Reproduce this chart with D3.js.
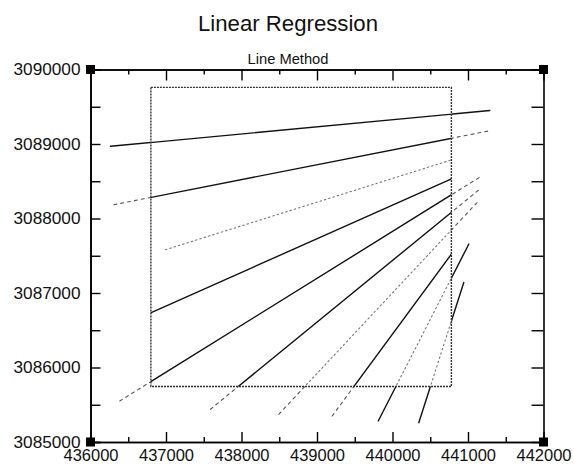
<!DOCTYPE html>
<html>
<head>
<meta charset="utf-8">
<script src="https://cdn.jsdelivr.net/npm/d3@7"></script>
<style>
  body { margin: 0; background: #fff; }
  text { font-family: "Liberation Sans", "DejaVu Sans", sans-serif; fill: #111; }
</style>
</head>
<body>
<svg id="chart" width="574" height="465"></svg>
<script>
// axis ticks (easting / northing)
var xMajor = [436000, 437000, 438000, 439000, 440000, 441000, 442000];
var xMinor = [436500, 437500, 438500, 439500, 440500, 441500];
var yMajor = [3085000, 3086000, 3087000, 3088000, 3089000, 3090000];
var yMinor = [3085500, 3086500, 3087500, 3088500, 3089500];

// the data window (inner box)
var boxX = [436800, 440780];
var boxY = [3085745, 3089760];

// regression lines, end points in map units
var lineNames = ["A", "B", "C", "D", "E", "F", "G", "H", "I", "J"];
var lineX1 = [436265, 436309, 436993, 436804, 436388, 437589, 438494, 439201, 439811, 440348];
var lineY1 = [3088969, 3088185, 3087581, 3086738, 3085551, 3085440, 3085372, 3085349, 3085282, 3085259];
var lineX2 = [441289, 441298, 440781, 440781, 441188, 441175, 441143, 440781, 441011, 440944];
var lineY2 = [3089449, 3089180, 3088786, 3088531, 3088575, 3088410, 3088239, 3087523, 3087657, 3087141];

// how each line is drawn inside / outside the box
var look = {
  A: ["solid", "solid"], B: ["solid", "dashed"], C: ["dotted", "dotted"],
  D: ["solid", "dashed"], E: ["solid", "dashed"], F: ["solid", "dashed"],
  G: ["dotted", "dashed"], H: ["solid", "dashed"], I: ["dotted", "solid"],
  J: ["dotted", "solid"]
};
var strokes = {
  solid:  {color: "#111", width: 1.4, dash: null},
  dashed: {color: "#555", width: 1.1, dash: "3,4"},
  dotted: {color: "#777", width: 1.1, dash: "1.5,3"}
};

var svg = d3.select("#chart");
var x = d3.scaleLinear().domain([436000, 442000]).range([90.5, 543.5]);
var y = d3.scaleLinear().domain([3085000, 3090000]).range([442, 69.5]);

var lines = lineNames.map(function(n, i) {
  return {name: n, x1: lineX1[i], y1: lineY1[i], x2: lineX2[i], y2: lineY2[i]};
});

// clip for the inside part, mask for the outside part
var defs = svg.append("defs");
defs.append("clipPath").attr("id", "inBox").append("rect")
    .attr("x", x(boxX[0])).attr("y", y(boxY[1]))
    .attr("width", x(boxX[1]) - x(boxX[0])).attr("height", y(boxY[0]) - y(boxY[1]));
var mask = defs.append("mask").attr("id", "outBox");
mask.append("rect").attr("width", 574).attr("height", 465).attr("fill", "#fff");
mask.append("rect")
    .attr("x", x(boxX[0])).attr("y", y(boxY[1]))
    .attr("width", x(boxX[1]) - x(boxX[0])).attr("height", y(boxY[0]) - y(boxY[1]))
    .attr("fill", "#000");

function drawPart(sel, part) {
  sel.append("line")
      .attr("x1", function(d) { return x(d.x1); })
      .attr("y1", function(d) { return y(d.y1); })
      .attr("x2", function(d) { return x(d.x2); })
      .attr("y2", function(d) { return y(d.y2); })
      .attr("stroke", function(d) { return strokes[look[d.name][part]].color; })
      .attr("stroke-width", function(d) { return strokes[look[d.name][part]].width; })
      .attr("stroke-dasharray", function(d) { return strokes[look[d.name][part]].dash; })
      .attr("stroke-linecap", "round");
}

var inside = svg.append("g").attr("clip-path", "url(#inBox)")
    .selectAll("g").data(lines).enter().append("g");
drawPart(inside, 0);
var outside = svg.append("g").attr("mask", "url(#outBox)")
    .selectAll("g").data(lines).enter().append("g");
drawPart(outside, 1);

// the box
svg.append("rect")
    .attr("x", x(boxX[0])).attr("y", y(boxY[1]))
    .attr("width", x(boxX[1]) - x(boxX[0])).attr("height", y(boxY[0]) - y(boxY[1]))
    .attr("fill", "none").attr("stroke", "#333").attr("stroke-width", 1.4)
    .attr("stroke-dasharray", "2,1");

// axes
function axisStyle(g) {
  g.select(".domain").attr("stroke", "#000").attr("stroke-width", 1.6);
  g.selectAll(".tick line").attr("stroke", "#000").attr("stroke-width", 1.4);
  g.selectAll(".tick text").style("font-size", "17px").attr("fill", "#111");
}

svg.append("g").attr("transform", "translate(0," + y(3085000) + ")")
    .call(d3.axisBottom(x).tickValues(xMajor).tickSizeInner(-10).tickSizeOuter(0)
      .tickPadding(7).tickFormat(d3.format("d")))
    .call(axisStyle)
    .selectAll(".tick text").attr("textLength", 55).attr("lengthAdjust", "spacingAndGlyphs");
svg.append("g").attr("transform", "translate(0," + y(3085000) + ")")
    .call(d3.axisBottom(x).tickValues(xMinor).tickSize(-5).tickFormat(""))
    .call(axisStyle);

svg.append("g").attr("transform", "translate(0," + y(3090000) + ")")
    .call(d3.axisTop(x).tickValues(xMajor).tickSizeInner(-11).tickSizeOuter(0).tickFormat(""))
    .call(axisStyle);
svg.append("g").attr("transform", "translate(0," + y(3090000) + ")")
    .call(d3.axisTop(x).tickValues(xMinor).tickSize(-5).tickFormat(""))
    .call(axisStyle);

svg.append("g").attr("transform", "translate(" + x(436000) + ",0)")
    .call(d3.axisLeft(y).tickValues(yMajor).tickSizeInner(-10).tickSizeOuter(0)
      .tickPadding(10).tickFormat(d3.format("d")))
    .call(axisStyle)
    .selectAll(".tick text").attr("textLength", 67).attr("lengthAdjust", "spacingAndGlyphs");
svg.append("g").attr("transform", "translate(" + x(436000) + ",0)")
    .call(d3.axisLeft(y).tickValues(yMinor).tickSize(-10).tickFormat(""))
    .call(axisStyle);

svg.append("g").attr("transform", "translate(" + x(442000) + ",0)")
    .call(d3.axisRight(y).tickValues(yMajor.concat(yMinor)).tickSizeInner(-12).tickSizeOuter(0).tickFormat(""))
    .call(axisStyle);

// corner markers
var corners = [[436000, 3090000], [442000, 3090000], [436000, 3085000], [442000, 3085000]];
svg.selectAll(".corner").data(corners).enter().append("rect")
    .attr("class", "corner")
    .attr("x", function(d) { return x(d[0]) - 4.5; })
    .attr("y", function(d) { return y(d[1]) - 4.5; })
    .attr("width", 9).attr("height", 9).attr("fill", "#000");

// titles
svg.append("text").attr("x", 288).attr("y", 31).attr("text-anchor", "middle")
    .style("font-size", "22px").attr("textLength", 180).attr("lengthAdjust", "spacingAndGlyphs")
    .text("Linear Regression");
svg.append("text").attr("x", 288).attr("y", 64).attr("text-anchor", "middle")
    .style("font-size", "14px").attr("textLength", 81).attr("lengthAdjust", "spacingAndGlyphs")
    .text("Line Method");
</script>
</body>
</html>
